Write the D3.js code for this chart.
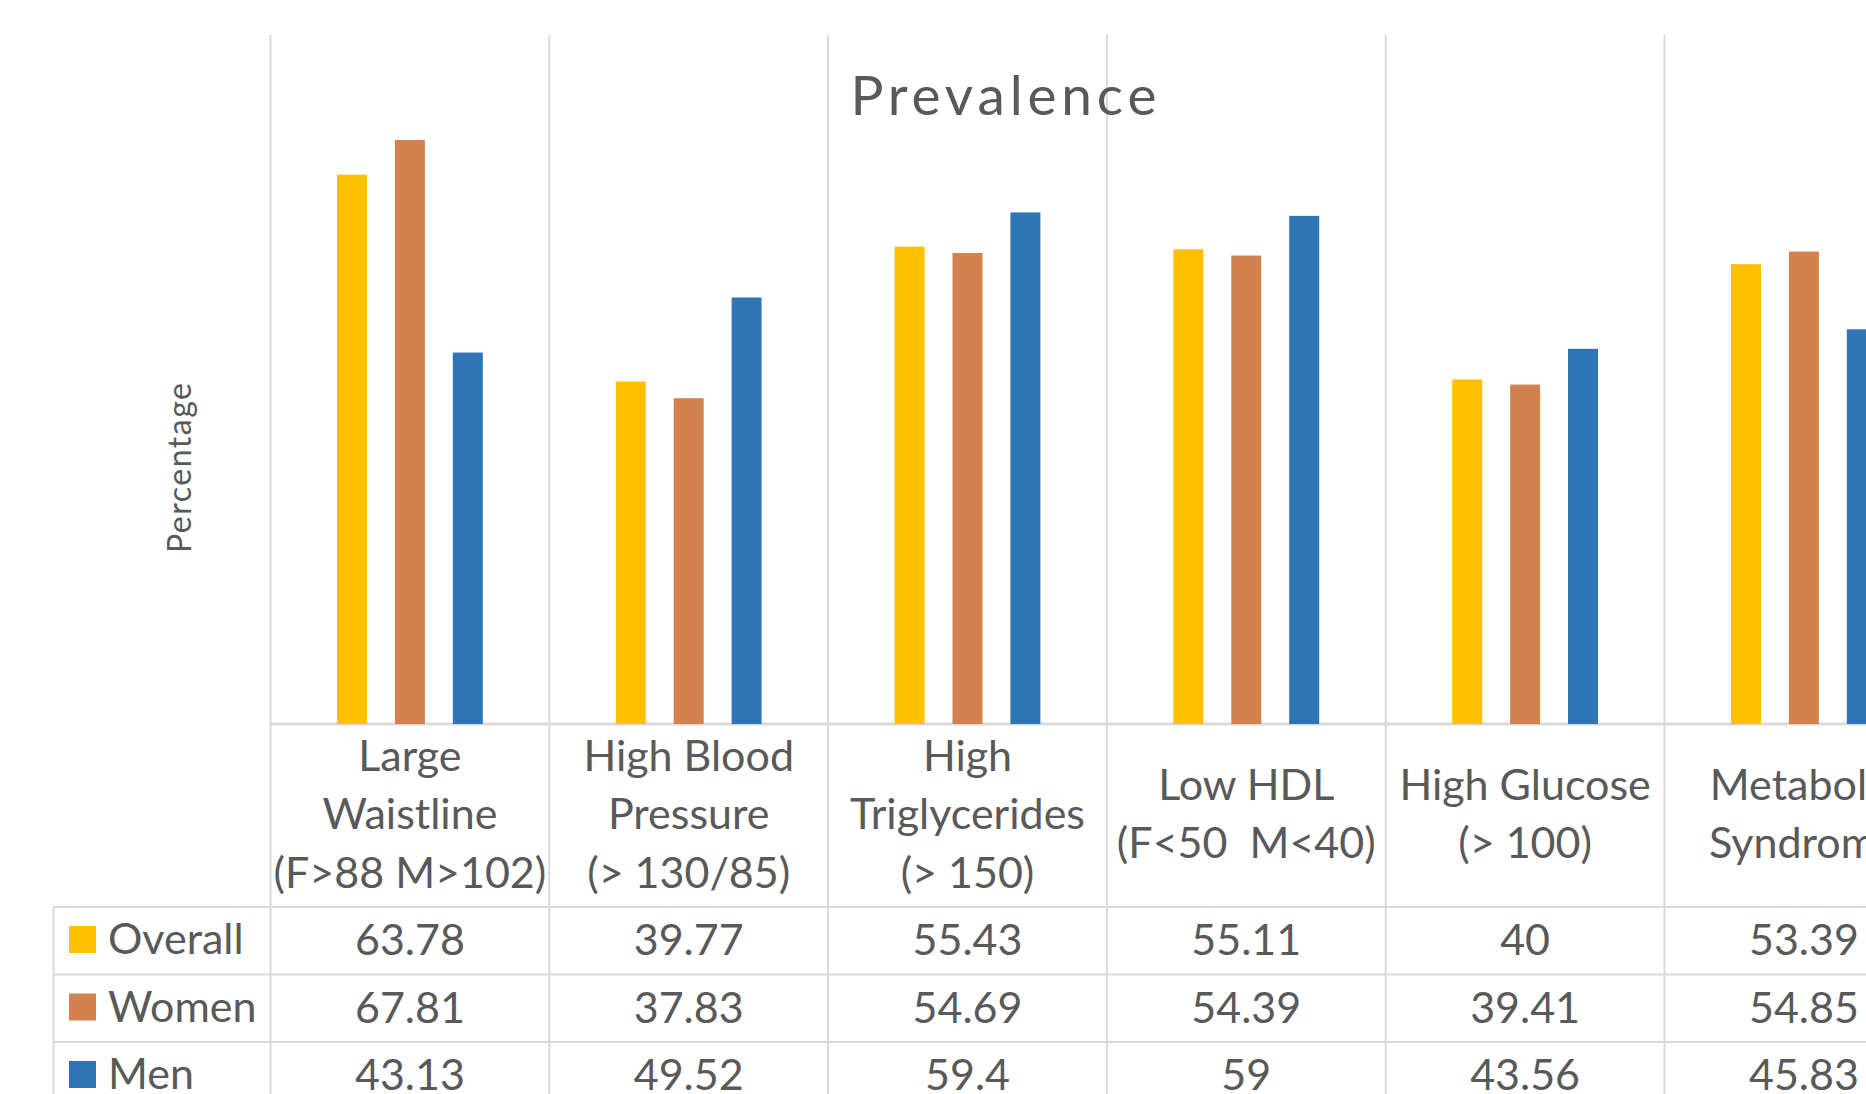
<!DOCTYPE html>
<html>
<head>
<meta charset="utf-8">
<script src="https://cdnjs.cloudflare.com/ajax/libs/d3/7.8.5/d3.min.js"></script>
<style>
  html, body { margin: 0; padding: 0; background: #ffffff; overflow: hidden; }
  svg { display: block; }
  text { font-family: Lato, "Open Sans", "Noto Sans", sans-serif; fill: #595959; }
</style>
</head>
<body>
<script>
// ---- data ----
const categories = ["Large Waistline", "High Blood Pressure", "High Triglycerides", "Low HDL", "High Glucose", "Metabolic Syndrome"];
const categoryLines = [
  ["Large", "Waistline", "(F>88 M>102)"],
  ["High Blood", "Pressure", "(> 130/85)"],
  ["High", "Triglycerides", "(> 150)"],
  ["Low HDL", "(F<50\u00A0\u00A0M<40)"],
  ["High Glucose", "(> 100)"],
  ["Metabolic", "Syndrome"]
];
const seriesNames = ["Overall", "Women", "Men"];
const overall = [63.78, 39.77, 55.43, 55.11, 40, 53.39];
const women   = [67.81, 37.83, 54.69, 54.39, 39.41, 54.85];
const men     = [43.13, 49.52, 59.4, 59, 43.56, 45.83];
const seriesValues = [overall, women, men];
const seriesLabels = [
  ["63.78", "39.77", "55.43", "55.11", "40", "53.39"],
  ["67.81", "37.83", "54.69", "54.39", "39.41", "54.85"],
  ["43.13", "49.52", "59.4", "59", "43.56", "45.83"]
];
const colors = ["#FFC000", "#D3824E", "#2E75B6"];
const yDomain = [0, 80];

// ---- layout ----
const W = 1866, H = 1094;
const plotLeft = 270.5, colW = 278.8;
const plotTop = 35, baseY = 724;
const tableLeft = 53.5;
const headerBottom = 907;
const rowH = 67.5;
const gridColor = "#D9D9D9";
const fs = 43;

const svg = d3.select("body").append("svg").attr("width", W).attr("height", H);

const x0 = d3.scaleBand().domain(categories)
  .range([plotLeft, plotLeft + colW * categories.length]).padding(0);
const x1 = d3.scaleBand().domain(seriesNames)
  .range([0, x0.bandwidth()]).paddingInner(0.482).paddingOuter(1.149);
const y = d3.scaleLinear().domain(yDomain).range([baseY, plotTop]);

const grid = svg.append("g").attr("stroke", gridColor).attr("stroke-width", 2);

// vertical column lines (plot + table)
const edges = categories.map(c => x0(c)).concat([x0.range()[1]]);
grid.selectAll("line.v").data(edges).join("line")
  .attr("x1", d => d).attr("x2", d => d)
  .attr("y1", y(yDomain[1])).attr("y2", H + 50);

// baseline of the plot
grid.append("line")
  .attr("x1", plotLeft).attr("x2", W + 100)
  .attr("y1", y(0)).attr("y2", y(0))
  .attr("stroke-width", 3);

// table left border
grid.append("line")
  .attr("x1", tableLeft).attr("x2", tableLeft)
  .attr("y1", headerBottom).attr("y2", H + 50);

// table row lines
const rowTops = d3.range(seriesNames.length + 1).map(i => headerBottom + i * rowH);
grid.selectAll("line.h").data(rowTops).join("line")
  .attr("x1", tableLeft).attr("x2", W + 100)
  .attr("y1", d => d).attr("y2", d => d);

// bars
const groups = svg.append("g").selectAll("g").data(categories).join("g")
  .attr("transform", c => `translate(${x0(c)},0)`);
groups.selectAll("rect")
  .data((c, i) => seriesNames.map((s, j) => ({ s, v: seriesValues[j][i], j })))
  .join("rect")
  .attr("x", d => x1(d.s))
  .attr("width", x1.bandwidth())
  .attr("y", d => y(d.v))
  .attr("height", d => y(0) - y(d.v))
  .attr("fill", d => colors[d.j]);

// category labels in table header
const lineGap = 58.5;
const labelMid = 829;
categories.forEach((c, i) => {
  const lines = categoryLines[i];
  const t = svg.append("text")
    .attr("text-anchor", "middle")
    .attr("font-size", fs);
  lines.forEach((ln, k) => {
    t.append("tspan")
      .attr("x", x0(c) + x0.bandwidth() / 2)
      .attr("y", labelMid + (k - (lines.length - 1) / 2) * lineGap)
      .text(ln);
  });
});

// table rows: legend keys and values
seriesNames.forEach((s, j) => {
  const top = rowTops[j];
  svg.append("rect")
    .attr("x", 69).attr("y", top + 19)
    .attr("width", 27).attr("height", 27)
    .attr("fill", colors[j]);
  svg.append("text")
    .attr("x", 108).attr("y", top + 47)
    .attr("font-size", fs)
    .text(s);
  categories.forEach((c, i) => {
    svg.append("text")
      .attr("x", x0(c) + x0.bandwidth() / 2)
      .attr("y", top + 48)
      .attr("text-anchor", "middle")
      .attr("font-size", fs)
      .text(seriesLabels[j][i]);
  });
});

// title
svg.append("text")
  .attr("x", 1003.5).attr("y", 115)
  .attr("text-anchor", "middle")
  .attr("font-size", 55)
  .attr("textLength", 306)
  .attr("lengthAdjust", "spacing")
  .text("Prevalence");

// y axis title
svg.append("text")
  .attr("transform", "translate(191,468) rotate(-90)")
  .attr("text-anchor", "middle")
  .attr("font-size", 32)
  .attr("textLength", 170)
  .attr("lengthAdjust", "spacing")
  .text("Percentage");
</script>
</body>
</html>
